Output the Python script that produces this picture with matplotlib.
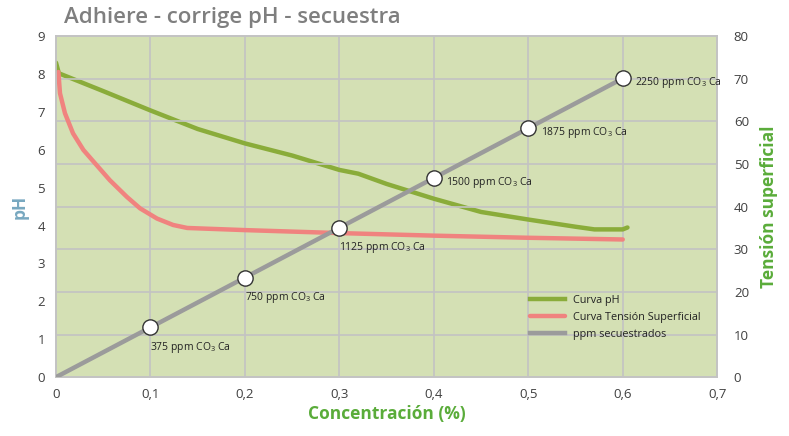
import matplotlib
matplotlib.use("Agg")
import matplotlib.pyplot as plt

# pH curve (left axis)
ph_x = [0, 0.003, 0.05, 0.1, 0.15, 0.2, 0.25, 0.3, 0.32, 0.35, 0.4, 0.45, 0.5, 0.55, 0.57, 0.6, 0.605]
ph_y = [8.3, 8.02, 7.55, 7.04, 6.55, 6.17, 5.85, 5.47, 5.37, 5.1, 4.71, 4.36, 4.16, 3.97, 3.9, 3.9, 3.95]

# surface tension curve (right axis)
ten_x = [0.0025, 0.0042, 0.0095, 0.018, 0.029, 0.040, 0.057, 0.075, 0.089, 0.107, 0.124, 0.139,
         0.2, 0.3, 0.4, 0.5, 0.6]
ten_y = [71.6, 66.6, 61.9, 57.2, 53.3, 50.5, 46.2, 42.3, 39.6, 37.2, 35.7, 35.0,
         34.5, 33.8, 33.2, 32.7, 32.3]

# sequestered ppm
ppm_x = [0, 0.1, 0.2, 0.3, 0.4, 0.5, 0.6]
ppm_y = [0, 375, 750, 1125, 1500, 1875, 2250]

x_ticks = [0, 0.1, 0.2, 0.3, 0.4, 0.5, 0.6, 0.7]
x_labels = ["0", "0,1", "0,2", "0,3", "0,4", "0,5", "0,6", "0,7"]

GREEN = "#8aac3a"
PINK = "#f0837f"
GRAY = "#9b9b9b"
TXT = "#404040"

plt.rcParams["font.family"] = ["Open Sans", "DejaVu Sans"]

fig = plt.figure(figsize=(7.89, 4.36), dpi=100)
ax = fig.add_axes([0.071, 0.135, 0.838, 0.782])
ax2 = ax.twinx()
ax3 = ax.twinx()

ax.set_facecolor("#d4e0b4")
ax.set_xlim(0, 0.7)
ax.set_ylim(0, 9)
ax2.set_ylim(0, 80)
ax3.set_ylim(0, 80 * 32.1)
ax3.axis("off")

ax.set_xticks(x_ticks)
ax.set_xticklabels(x_labels)
ax.set_yticks(range(0, 10))
ax2.set_yticks(range(0, 90, 10))
ax.tick_params(length=0, labelsize=9.5, colors=TXT, pad=8)
ax2.tick_params(length=0, labelsize=9.5, colors=TXT, pad=12)

# gridlines follow the right axis
ax.grid(axis="x", color="#c3c3c3", lw=1.2)
ax2.grid(axis="y", color="#c3c3c3", lw=1.2)
ax.set_axisbelow(True)
ax2.set_axisbelow(True)
for a in (ax, ax2, ax3):
    for s in a.spines.values():
        s.set_color("#c3c3c3")
        s.set_linewidth(1.2)

l1, = ax3.plot([], [], color=GREEN, lw=3.2, label="Curva pH")
ax.plot(ph_x, ph_y, color=GREEN, lw=3.2, solid_capstyle="round", zorder=3)
l2, = ax2.plot(ten_x, ten_y, color=PINK, lw=3.2, solid_capstyle="round", label="Curva Tensión Superficial")
l3, = ax3.plot(ppm_x, ppm_y, color=GRAY, lw=3.2, label="ppm secuestrados")
ax3.plot(ppm_x[1:], ppm_y[1:], "o", ms=11, mfc="white", mec="#333333", mew=1.0, zorder=5)

for i, (xv, yv) in enumerate(zip(ppm_x[1:], ppm_y[1:])):
    lbl = f"{yv} ppm " + r"$\mathregular{CO}$" + r"$\mathregular{_3}$ Ca"
    if i < 3:
        ax3.annotate(lbl, (xv, yv), xytext=(0, -9), textcoords="offset points",
                     ha="left", va="top", fontsize=7.5, color="#222222")
    else:
        ax3.annotate(lbl, (xv, yv), xytext=(9, -3), textcoords="offset points",
                     ha="left", va="center", fontsize=7.5, color="#222222")

leg = ax3.legend(handles=[l1, l2, l3], loc="lower right", bbox_to_anchor=(0.99, 0.08),
                 frameon=False, fontsize=7.8, handlelength=3.2, labelspacing=0.55)
for t in leg.get_texts():
    t.set_color("#222222")

ax.set_xlabel("Concentración (%)", color="#5aac3a", fontsize=12.5, fontweight="bold", labelpad=3)
ax.set_ylabel("pH", color="#78a8c0", fontsize=12.5, fontweight="bold", labelpad=6)
ax2.set_ylabel("Tensión superficial", color="#5aac3a", fontsize=12.5, fontweight="bold", labelpad=8)

fig.text(0.081, 0.96, "Adhiere - corrige pH - secuestra", fontsize=16, color="#7f7f7f",
         fontweight="semibold", va="center", ha="left")

fig.savefig("out.png", dpi=100)
